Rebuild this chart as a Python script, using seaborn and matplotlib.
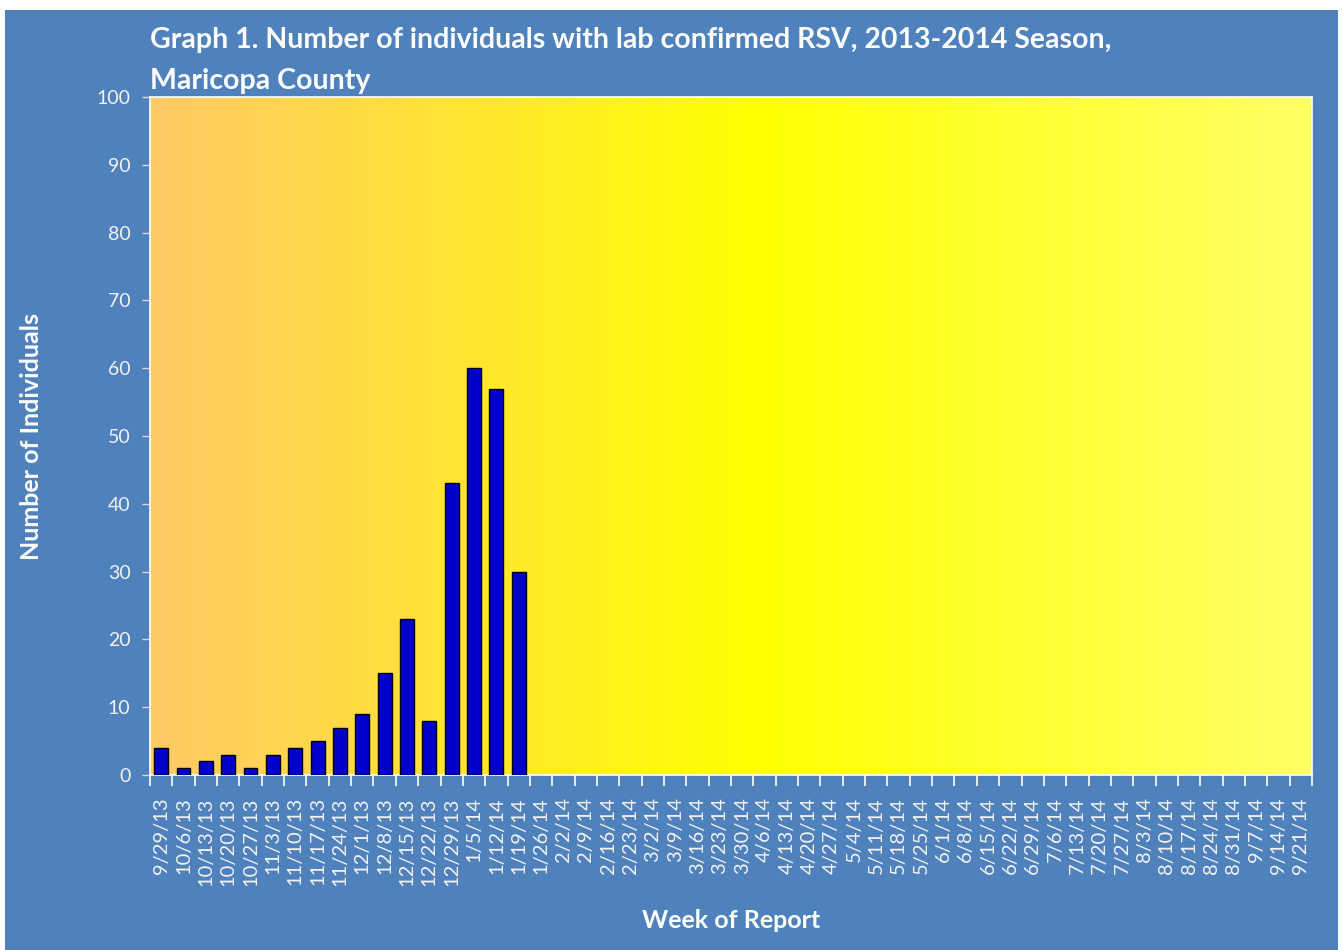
import matplotlib

matplotlib.use("Agg")
import matplotlib.pyplot as plt
import numpy as np
import pandas as pd
import seaborn as sns
from matplotlib.colors import LinearSegmentedColormap
from matplotlib.patches import Rectangle


WEEKS = [
    "9/29/13", "10/6/13", "10/13/13", "10/20/13", "10/27/13", "11/3/13",
    "11/10/13", "11/17/13", "11/24/13", "12/1/13", "12/8/13", "12/15/13",
    "12/22/13", "12/29/13", "1/5/14", "1/12/14", "1/19/14", "1/26/14",
    "2/2/14", "2/9/14", "2/16/14", "2/23/14", "3/2/14", "3/9/14",
    "3/16/14", "3/23/14", "3/30/14", "4/6/14", "4/13/14", "4/20/14",
    "4/27/14", "5/4/14", "5/11/14", "5/18/14", "5/25/14", "6/1/14",
    "6/8/14", "6/15/14", "6/22/14", "6/29/14", "7/6/14", "7/13/14",
    "7/20/14", "7/27/14", "8/3/14", "8/10/14", "8/17/14", "8/24/14",
    "8/31/14", "9/7/14", "9/14/14", "9/21/14",
]
# weeks reported so far (rest of the season has no data yet)
REPORTED_COUNTS = [4, 1, 2, 3, 1, 3, 4, 5, 7, 9, 15, 23, 8, 43, 60, 57, 30]
Y_TICKS = [0, 10, 20, 30, 40, 50, 60, 70, 80, 90, 100]

TITLE = "Graph 1. Number of individuals with lab confirmed RSV, 2013-2014 Season,\nMaricopa County"
BG_BLUE = "#4F81BD"
TEXT_COLOR = "#F2F2F2"


counts = pd.Series(REPORTED_COUNTS, index=WEEKS[: len(REPORTED_COUNTS)]).reindex(WEEKS)
plot_df = pd.DataFrame({"week": WEEKS, "count": counts.values})

sns.set_style("white")
plt.rcParams["font.family"] = ["Lato", "DejaVu Sans"]

fig = plt.figure(figsize=(13.43, 9.5), dpi=100, facecolor="white")
fig.patches.append(
    Rectangle((5 / 1343, 0), 1333 / 1343, 940 / 950, transform=fig.transFigure,
              facecolor=BG_BLUE, edgecolor="none", zorder=-10)
)
ax = fig.add_axes([150 / 1343, 1 - 775 / 950, 1162 / 1343, 678 / 950])

sns.barplot(data=plot_df, x="week", y="count", order=WEEKS, color="#0000CC",
            edgecolor="black", linewidth=1.0, width=0.62, saturation=1, ax=ax, zorder=3)

ax.set_xlim(-0.5, len(WEEKS) - 0.5)
ax.set_ylim(0, 100)

# gradient fill of the plot area: orange -> yellow -> pale yellow
grad = LinearSegmentedColormap.from_list(
    "bg", [(0, "#FFC966"), (0.52, "#FFFF00"), (1.0, "#FFFF66")]
)
ax.imshow(np.linspace(0, 1, 256).reshape(1, -1), cmap=grad, aspect="auto",
          extent=(-0.5, len(WEEKS) - 0.5, 0, 100), zorder=0)

ax.set_yticks(Y_TICKS)
ax.set_xticks(np.arange(len(WEEKS)))
ax.set_xticklabels(WEEKS, rotation=90)
ax.set_xticks(np.arange(len(WEEKS) + 1) - 0.5, minor=True)
ax.tick_params(axis="x", which="both", bottom=True)
ax.tick_params(axis="x", which="major", length=0, pad=16, labelsize=14.5, labelcolor=TEXT_COLOR)
ax.tick_params(axis="x", which="minor", length=8, width=1.2, color="white", direction="out")
ax.tick_params(axis="y", left=True, length=6, width=1, color="#D9D9D9", direction="out",
               labelsize=14, labelcolor=TEXT_COLOR, pad=8)

for side in ["left", "right", "top", "bottom"]:
    ax.spines[side].set_visible(True)
    ax.spines[side].set_color("white")
    ax.spines[side].set_linewidth(1.2)

ax.set_xlabel("Week of Report", fontsize=18, fontweight="bold", color="white")
ax.set_ylabel("Number of Individuals", fontsize=18, fontweight="bold", color="white")
ax.yaxis.set_label_coords(-118 / 1162, 0.5)
ax.xaxis.set_label_coords(0.5, -(921 - 775) / 678)
ax.xaxis.label.set_va("center")
ax.yaxis.label.set_va("center")

fig.text(150 / 1343, 1 - 27 / 950, TITLE, ha="left", va="top", fontsize=20.5,
         fontweight="bold", color="white", linespacing=1.7)

fig.savefig("out.png", dpi=100, facecolor="white")
plt.close(fig)
